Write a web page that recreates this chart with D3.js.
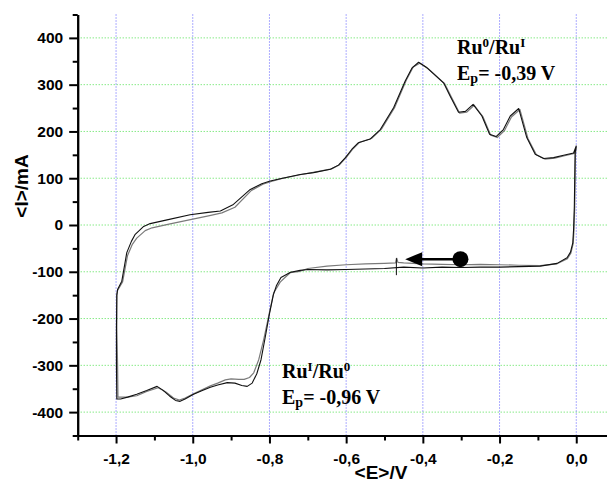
<!DOCTYPE html>
<html>
<head>
<meta charset="utf-8">
<script src="https://cdn.jsdelivr.net/npm/d3@7"></script>
<style>
  html, body { margin: 0; padding: 0; background: #fff; }
  svg { display: block; }
</style>
</head>
<body>
<script>
// ---------- DATA ----------
const xTicks = [-1.2, -1.0, -0.8, -0.6, -0.4, -0.2, 0.0];
const xTickLabels = ["-1,2", "-1,0", "-0,8", "-0,6", "-0,4", "-0,2", "0,0"];
const xMinorTicks = [-1.3, -1.1, -0.9, -0.7, -0.5, -0.3, -0.1];
const yTicks = [-400, -300, -200, -100, 0, 100, 200, 300, 400];
const yTickLabels = ["-400", "-300", "-200", "-100", "0", "100", "200", "300", "400"];
const yMinorTicks = [-450, -350, -250, -150, -50, 50, 150, 250, 350, 450];

// cycle 1 (black): potential E (V) and current I (mA)
const cycle1E = [
  -0.25, -0.30, -0.35, -0.40, -0.45, -0.50, -0.55, -0.60, -0.65, -0.70, -0.72, -0.745, -0.770, -0.782, -0.790,
  -0.800, -0.811, -0.822, -0.833, -0.845, -0.858, -0.872, -0.890, -0.910, -0.935, -0.954, -0.975, -0.998,
  -1.020, -1.033, -1.045, -1.060, -1.078, -1.093, -1.120, -1.146, -1.170, -1.188, -1.198, -1.199, -1.199,
  -1.198, -1.196,
  -1.185, -1.172, -1.160, -1.150, -1.128, -1.111, -1.067, -1.007, -0.960, -0.928, -0.894, -0.850, -0.820,
  -0.798, -0.772, -0.720, -0.685, -0.641, -0.620, -0.602, -0.585, -0.568, -0.537, -0.511, -0.476, -0.446,
  -0.428, -0.411, -0.389, -0.346, -0.329, -0.307, -0.289, -0.269, -0.246, -0.226, -0.209, -0.190, -0.172,
  -0.150, -0.129, -0.107, -0.085, -0.059, -0.033, -0.007, 0.0,
  -0.003, -0.005, -0.007, -0.009, -0.015, -0.024, -0.050, -0.094, -0.150, -0.200, -0.25
];
const cycle1I = [
  -90, -91, -90, -92, -90, -93, -94, -95, -96, -95, -97, -101, -112, -130, -150,
  -190, -240, -288, -318, -338, -345, -343, -338, -337, -342, -347, -354, -362,
  -372, -377, -375, -366, -353, -345, -354, -362, -368, -372, -372, -300, -220,
  -150, -138,
  -120, -59, -35, -20, -3, 3, 11, 22, 27, 30, 44, 76, 88,
  94, 99, 108, 112, 119, 128, 144, 162, 176, 184, 204, 251, 308,
  336, 348, 336, 304, 276, 241, 243, 258, 233, 194, 189, 204, 233,
  249, 187, 151, 142, 144, 149, 154, 169,
  154, 40, -10, -38, -58, -70, -82, -88, -89, -90, -90
];

// cycle 2 (grey)
const cycle2E = [
  -0.25, -0.30, -0.35, -0.40, -0.45, -0.465, -0.468, -0.471, -0.50, -0.55, -0.60, -0.65, -0.70, -0.720,
  -0.746, -0.763, -0.772, -0.789, -0.802, -0.815, -0.828, -0.841, -0.852, -0.866, -0.880, -0.900, -0.915,
  -0.935, -0.954, -0.998, -1.020, -1.035, -1.050, -1.070, -1.090, -1.120, -1.146, -1.170, -1.185, -1.195,
  -1.196, -1.198, -1.198, -1.196,
  -1.183, -1.170, -1.158, -1.146, -1.124, -1.106, -1.062, -1.003, -0.956, -0.924, -0.890, -0.847, -0.817,
  -0.795, -0.769, -0.717, -0.682, -0.638, -0.617, -0.599, -0.582, -0.565, -0.534, -0.508, -0.473, -0.443,
  -0.425, -0.408, -0.386, -0.343, -0.326, -0.304, -0.286, -0.266, -0.243, -0.223, -0.206, -0.187, -0.169,
  -0.147, -0.126, -0.104, -0.082, -0.056, -0.030, -0.005, 0.0,
  -0.002, -0.004, -0.006, -0.008, -0.014, -0.023, -0.050, -0.094, -0.150, -0.200, -0.25
];
const cycle2I = [
  -84, -85, -84, -83, -81, -80, -71, -81, -82, -83, -85, -88, -93, -99,
  -102, -115, -122, -145, -195, -245, -288, -316, -326, -330, -330, -329, -331,
  -338, -344, -361, -370, -374, -370, -357, -348, -356, -365, -368, -368, -368,
  -300, -220, -150, -140,
  -122, -65, -42, -28, -12, -6, 2, 12, 20, 26, 38, 74, 87,
  93, 99, 108, 113, 120, 129, 145, 163, 177, 185, 205, 252, 310,
  338, 346, 334, 302, 274, 239, 241, 256, 231, 192, 187, 202, 231,
  247, 185, 150, 141, 143, 148, 153, 166,
  152, 38, -12, -40, -60, -72, -83, -87, -86, -85, -84
];

// scan-direction arrow (start / tip, in data units)
const arrowStart = [-0.302, -73];
const arrowTip = [-0.446, -73];
// cursor mark on the baseline (data units)
const cursorMark = [-0.469, -88];

// ---------- CHART ----------
const W = 607, H = 484;
const svg = d3.select("body").append("svg").attr("width", W).attr("height", H)
  .style("background", "#fff");

const x = d3.scaleLinear().domain([-1.3, 0.1]).range([77.7, 614.6]);
const y = d3.scaleLinear().domain([-450, 450]).range([435.5, 14.5]);

// grid
const grid = svg.append("g");
grid.selectAll("line.h").data(yTicks).join("line")
  .attr("x1", x(-1.3)).attr("x2", W)
  .attr("y1", d => y(d)).attr("y2", d => y(d))
  .attr("stroke", "#4fe04f").attr("stroke-width", 1).attr("stroke-dasharray", "1,2");
grid.selectAll("line.v").data(xTicks).join("line")
  .attr("x1", d => x(d)).attr("x2", d => x(d))
  .attr("y1", y(450)).attr("y2", y(-450))
  .attr("stroke", "#5a5aff").attr("stroke-width", 1).attr("stroke-dasharray", "1,2");

// curves
const line = d3.line().x(d => x(d[0])).y(d => y(d[1]));
const c1 = cycle1E.map((e, i) => [e, cycle1I[i]]);
const c2 = cycle2E.map((e, i) => [e, cycle2I[i]]);
svg.append("path").attr("d", line(c2)).attr("fill", "none")
  .attr("stroke", "#7a7a7a").attr("stroke-width", 1.2).attr("stroke-linejoin", "round");
svg.append("path").attr("d", line(c1)).attr("fill", "none")
  .attr("stroke", "#111").attr("stroke-width", 1.1).attr("stroke-linejoin", "round");

// small cursor mark
svg.append("line").attr("x1", x(cursorMark[0])).attr("x2", x(cursorMark[0]))
  .attr("y1", y(cursorMark[1]) - 8).attr("y2", y(cursorMark[1]) + 9)
  .attr("stroke", "#111").attr("stroke-width", 1);

// axes
const fontAxis = "'Liberation Sans', Arial, sans-serif";
const xAxis = d3.axisBottom(x).tickValues(xTicks).tickFormat((d, i) => xTickLabels[i])
  .tickSize(8).tickSizeOuter(0).tickPadding(9);
const xMinor = d3.axisBottom(x).tickValues(xMinorTicks).tickFormat("").tickSize(5).tickSizeOuter(0);
const yAxis = d3.axisLeft(y).tickValues(yTicks).tickFormat((d, i) => yTickLabels[i])
  .tickSize(8.5).tickSizeOuter(0).tickPadding(6);
const yMinor = d3.axisLeft(y).tickValues(yMinorTicks).tickFormat("").tickSize(5).tickSizeOuter(0);

function styleAxis(g) {
  g.selectAll("path.domain").attr("stroke", "#000").attr("stroke-width", 2);
  g.selectAll(".tick line").attr("stroke", "#000").attr("stroke-width", 2);
  g.selectAll(".tick text").attr("fill", "#000")
    .style("font-family", fontAxis).style("font-weight", "bold").style("font-size", "15.5px");
}
svg.append("g").attr("transform", `translate(0,${y(-450)})`).call(xMinor).call(styleAxis);
svg.append("g").attr("transform", `translate(0,${y(-450)})`).call(xAxis).call(styleAxis);
svg.append("g").attr("transform", `translate(${x(-1.3)},0)`).call(yMinor).call(styleAxis);
svg.append("g").attr("transform", `translate(${x(-1.3)},0)`).call(yAxis).call(styleAxis);

// axis titles
svg.append("text").attr("x", 381).attr("y", 479).attr("text-anchor", "middle")
  .style("font-family", fontAxis).style("font-weight", "bold").style("font-size", "19px")
  .text("<E>/V");
svg.append("text").attr("transform", "translate(28,186) rotate(-90)").attr("text-anchor", "middle")
  .style("font-family", fontAxis).style("font-weight", "bold").style("font-size", "19px")
  .text("<I>/mA");

// arrow
const ax0 = x(arrowStart[0]), ay = y(arrowStart[1]), ax1 = x(arrowTip[0]);
svg.append("line").attr("x1", ax0).attr("x2", ax1 + 15).attr("y1", ay).attr("y2", ay)
  .attr("stroke", "#000").attr("stroke-width", 2.5);
svg.append("path").attr("d", `M${ax1},${ay} L${ax1 + 17},${ay - 7} L${ax1 + 17},${ay + 7} Z`).attr("fill", "#000");
svg.append("circle").attr("cx", ax0).attr("cy", ay).attr("r", 8).attr("fill", "#000");

// annotations
const fontSerif = "'Liberation Serif', 'Times New Roman', serif";
function label(xp, yp, parts) {
  const t = svg.append("text").attr("x", xp).attr("y", yp)
    .style("font-family", fontSerif).style("font-weight", "bold").style("font-size", "20px").attr("fill", "#000");
  parts.forEach(p => {
    const ts = t.append("tspan").text(p.t);
    if (p.s === "sup") ts.attr("dy", -7.5).style("font-size", "13px");
    if (p.s === "sub") ts.attr("dy", 3).style("font-size", "14px");
    if (p.back) ts.attr("dy", p.back);
  });
}
label(457, 54, [{t: "Ru"}, {t: "0", s: "sup"}, {t: "/Ru", back: 7.5}, {t: "I", s: "sup"}]);
label(457, 80, [{t: "E"}, {t: "p", s: "sub"}, {t: "= -0,39 V", back: -3}]);
label(282, 378, [{t: "Ru"}, {t: "I", s: "sup"}, {t: "/Ru", back: 7.5}, {t: "0", s: "sup"}]);
label(282, 404, [{t: "E"}, {t: "p", s: "sub"}, {t: "= -0,96 V", back: -3}]);
</script>
</body>
</html>
